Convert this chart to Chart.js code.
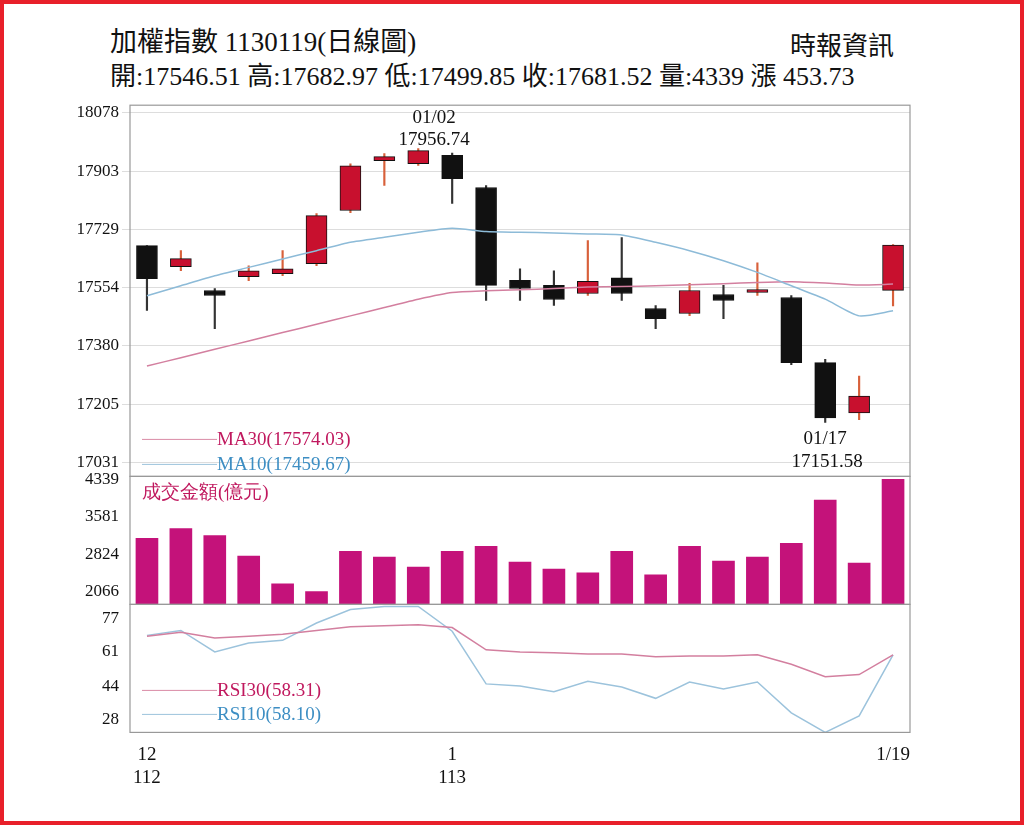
<!DOCTYPE html>
<html><head><meta charset="utf-8">
<script src="https://cdn.jsdelivr.net/npm/chart.js@4/dist/chart.umd.min.js"></script>
<style>
body{margin:0;background:#fff;}
#frame{position:absolute;left:0;top:0;width:1016px;height:817px;border:4px solid #e8202a;}
.t{position:absolute;font-family:"Liberation Serif","Noto Sans CJK TC",serif;color:#111;white-space:nowrap;}
#wrap{position:absolute;left:40px;top:92px;width:900px;height:700px;}
</style></head><body>
<div id="frame"></div>
<div class="t" style="left:110px;top:20px;font-size:27px;">加權指數 1130119(日線圖)</div>
<div class="t" style="left:790px;top:25px;font-size:26px;">時報資訊</div>
<div class="t" style="left:110px;top:55px;font-size:26px;">開:17546.51 高:17682.97 低:17499.85 收:17681.52 量:4339 漲 453.73</div>
<div id="wrap"><canvas id="c"></canvas></div>
<script>
const days = ['12/19','12/20','12/21','12/22','12/25','12/26','12/27','12/28','12/29','1/2','1/3','1/4','1/5','1/8','1/9','1/10','1/11','1/12','1/15','1/16','1/17','1/18','1/19'];
const openP  = [17680,17617,17546,17587,17596,17626,17785,17934,17925,17950,17854,17576,17561,17537,17584,17492,17477,17534,17540,17525,17330,17180,17546.51];
const closeP = [17581,17641,17531,17605,17611,17770,17919,17946,17964,17880,17561,17552,17519,17573,17537,17462,17546,17516,17549,17330,17165,17230,17681.52];
const highP  = [17680,17665,17552,17620,17665,17776,17925,17955,17970,17956.74,17860,17611,17605,17695,17704,17501,17567,17561,17629,17531,17340,17290,17682.97];
const lowP   = [17486,17605,17432,17575,17590,17620,17779,17860,17920,17806,17516,17516,17501,17531,17516,17432,17471,17462,17531,17324,17151.58,17160,17499.85];
const ma10 = [17530,17560,17590,17615,17640,17665,17690,17705,17720,17732,17722,17720,17718,17715,17712,17690,17665,17635,17600,17560,17520,17470,17485];
const ma30 = [17320,17345,17370,17395,17420,17445,17470,17495,17520,17540,17545,17548,17552,17556,17558,17560,17563,17566,17570,17572,17568,17562,17565];
const volume = [3143,3342,3203,2784,2225,2066,2884,2764,2565,2884,2984,2665,2525,2445,2884,2405,2984,2685,2764,3043,3920,2645,4339];
const rsi30 = [68.6,70.5,67.7,68.6,69.5,71.4,73.2,73.7,74.2,72.8,62,61,60.6,60,60,58.7,59,59,59.6,55,49,50,59.6];
const rsi10 = [69,71.4,61,65.3,66.6,75,81.5,83,83,71,45.5,44.5,41.7,46.8,44,38.5,46.4,43,46.4,31.5,22,30,59.6];
const priceTicks = [17031,17205,17380,17554,17729,17903,18078];
const volTicks = [2066,2824,3581,4339];
const rsiTicks = [28,44,61,77];

const upC = '#c8102e', downC = '#111';
const candleCol = openP.map((o,i) => closeP[i] >= o ? upC : downC);
const serif = '"Liberation Serif", serif';

const notes = {
  id:'notes',
  afterDatasetsDraw(ch){
    const c = ch.ctx, x = ch.scales.x, y = ch.scales.y, yv = ch.scales.yv, yr = ch.scales.yr;
    c.save();
    c.font = '19px ' + serif; c.textAlign = 'center'; c.fillStyle = '#111';
    c.fillText('01/02', x.getPixelForValue(9)-18, y.getPixelForValue(17956.74)-30);
    c.fillText('17956.74', x.getPixelForValue(9)-18, y.getPixelForValue(17956.74)-8);
    c.fillText('01/17', x.getPixelForValue(20), y.getPixelForValue(17151.58)+22);
    c.fillText('17151.58', x.getPixelForValue(20)+2, y.getPixelForValue(17151.58)+45);
    c.textAlign = 'left';
    const lx = x.left+12;
    c.strokeStyle = '#d98aa5'; c.lineWidth = 1;
    c.beginPath(); c.moveTo(lx, y.bottom-37); c.lineTo(lx+75, y.bottom-37); c.stroke();
    c.fillStyle = '#c0185e'; c.fillText('MA30(17574.03)', lx+75, y.bottom-31);
    c.strokeStyle = '#9cc3dc';
    c.beginPath(); c.moveTo(lx, y.bottom-12); c.lineTo(lx+75, y.bottom-12); c.stroke();
    c.fillStyle = '#3d8ec3'; c.fillText('MA10(17459.67)', lx+75, y.bottom-6);
    c.fillStyle = '#c0185e'; c.fillText('成交金額(億元)', lx, yv.top+22);
    c.strokeStyle = '#d98aa5';
    c.beginPath(); c.moveTo(lx, yr.bottom-42); c.lineTo(lx+75, yr.bottom-42); c.stroke();
    c.fillStyle = '#c0185e'; c.fillText('RSI30(58.31)', lx+75, yr.bottom-36);
    c.strokeStyle = '#9cc3dc';
    c.beginPath(); c.moveTo(lx, yr.bottom-18); c.lineTo(lx+75, yr.bottom-18); c.stroke();
    c.fillStyle = '#3d8ec3'; c.fillText('RSI10(58.10)', lx+75, yr.bottom-12);
    c.strokeStyle = '#999'; c.lineWidth = 1.2;
    [y, yv, yr].forEach(s => c.strokeRect(x.left, s.top, x.right-x.left, s.bottom-s.top));
    c.restore();
  }
};

const fixTicks = list => (axis => { axis.ticks = list.map(v => ({value:v})); });
const tickFont = {color:'#111', font:{family:serif, size:17}, callback:v => String(v)};

new Chart(document.getElementById('c'), {
  data: {
    labels: days,
    datasets: [
      {type:'line', label:'MA10', data:ma10, yAxisID:'y', borderColor:'#8dbbd8', borderWidth:1.5, pointRadius:0, tension:0.2},
      {type:'line', label:'MA30', data:ma30, yAxisID:'y', borderColor:'#d37f9f', borderWidth:1.5, pointRadius:0, tension:0.2},
      {type:'bar', label:'body', data:openP.map((o,i) => [o, closeP[i]]), yAxisID:'y', backgroundColor:candleCol, borderColor:'#111', borderWidth:1, barThickness:21, grouped:false, borderSkipped:false},
      {type:'bar', label:'wick', data:lowP.map((l,i) => [l, highP[i]]), yAxisID:'y', backgroundColor:candleCol.map(c => c===upC ? '#d8603a' : '#333'), barThickness:1.5, grouped:false},
      {type:'bar', label:'vol', data:volume, yAxisID:'yv', backgroundColor:'#c4127a', barThickness:22, grouped:false},
      {type:'line', label:'RSI30', data:rsi30, yAxisID:'yr', borderColor:'#d37f9f', borderWidth:1.5, pointRadius:0},
      {type:'line', label:'RSI10', data:rsi10, yAxisID:'yr', borderColor:'#9cc3dc', borderWidth:1.5, pointRadius:0}
    ]
  },
  options: {
    responsive:true, maintainAspectRatio:false, animation:false,
    layout:{padding:{left:0, right:30, top:5}},
    plugins:{legend:{display:false}, tooltip:{enabled:false}},
    scales:{
      x:{offset:true, grid:{display:false}, border:{display:false},
         ticks:{autoSkip:false, maxRotation:0, color:'#111', font:{family:serif, size:19},
           callback:(v,i) => i===0 ? ['12','112'] : i===9 ? ['1','113'] : i===22 ? '1/19' : ''}},
      yr:{stack:'p', stackWeight:1, min:22, max:84, afterBuildTicks:fixTicks(rsiTicks),
         grid:{display:false}, border:{display:false}, ticks:tickFont, afterFit:a=>{a.width=90;}},
      yv:{stack:'p', stackWeight:1, min:1807, max:4400, afterBuildTicks:fixTicks(volTicks),
         grid:{display:false}, border:{display:false}, ticks:tickFont, afterFit:a=>{a.width=90;}},
      y:{stack:'p', stackWeight:2.9, min:16990, max:18100, afterBuildTicks:fixTicks(priceTicks),
         grid:{color:'#ddd'}, border:{display:false}, ticks:tickFont, afterFit:a=>{a.width=90;}}
    }
  },
  plugins:[notes]
});
</script>
</body></html>
